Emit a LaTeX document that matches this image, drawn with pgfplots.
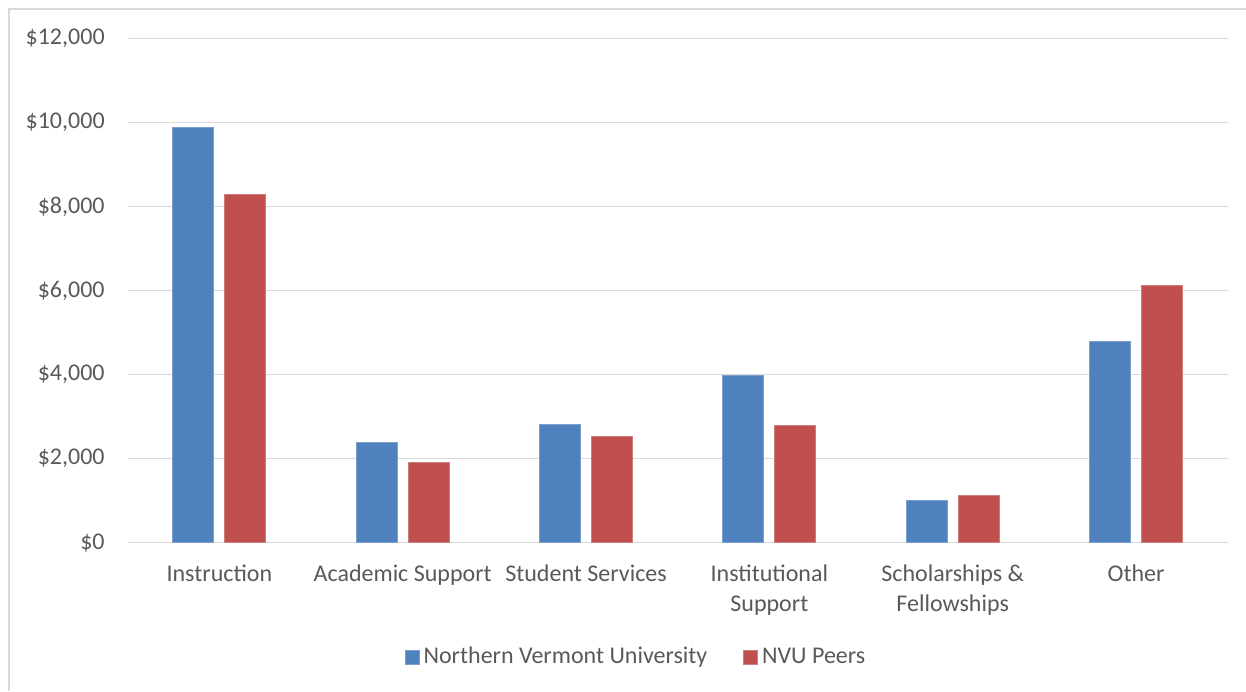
\documentclass[border=0pt]{standalone}
\usepackage{pgfplots}
\pgfplotsset{compat=1.18}
\usepackage{fontspec}
\setmainfont{Carlito}
\definecolor{nvublue}{HTML}{4F81BD}
\definecolor{nvured}{HTML}{C0504D}
\definecolor{gridgray}{HTML}{D9D9D9}
\definecolor{textgray}{HTML}{595959}
\begin{document}
\begin{tikzpicture}
\useasboundingbox (0,0) rectangle (623pt,345.5pt);
\draw[gridgray, line width=1pt] (4.25pt,0) -- (4.25pt,341pt) -- (623pt,341pt);
\begin{axis}[
  at={(63.85pt,74.15pt)}, anchor=south west,
  scale only axis, width=550pt, height=252.1pt,
  ybar, bar width=20.5pt, ybar=5.5pt,
  xmin=-0.5, xmax=5.5, ymin=0, ymax=12000,
  scaled y ticks=false,
  xtick={0,1,2,3,4,5},
  xticklabels={Instruction, Academic Support, Student Services, Institutional\\Support, Scholarships \&\\Fellowships, Other},
  ytick={0,2000,4000,6000,8000,10000,12000},
  yticklabels={{\$0},{\$2,000},{\$4,000},{\$6,000},{\$8,000},{\$10,000},{\$12,000}},
  major tick length=0pt,
  ymajorgrids, grid style={gridgray, line width=0.75pt},
  axis line style={draw=none},
  axis x line*=bottom, axis y line*=left,
  x axis line style={draw=gridgray, line width=0.75pt},
  y axis line style={draw=none},
  tick label style={font=\fontsize{12}{15}\selectfont, text=textgray},
  yticklabel style={xshift=-8pt},
  xticklabel style={align=center, yshift=-7.5pt},
  legend style={at={(0.463,-0.2267)}, anchor=center, draw=none, fill=none,
    legend columns=2, font=\fontsize{12}{15}\selectfont, text=textgray,
    /tikz/every even column/.append style={column sep=16pt}},
  legend image code/.code={\fill[#1] (0pt,-3.5pt) rectangle (7pt,3.5pt);},
  clip=false,
]
\addplot[fill=nvublue, draw=nvublue!75!white, line width=0.4pt] coordinates {
  (0,9876) (1,2389) (2,2818) (3,3991) (4,1016) (5,4783)};
\addplot[fill=nvured, draw=nvured!75!white, line width=0.4pt] coordinates {
  (0,8282) (1,1913) (2,2532) (3,2784) (4,1128) (5,6126)};
\legend{Northern Vermont University, NVU Peers}
\end{axis}
\end{tikzpicture}
\end{document}
